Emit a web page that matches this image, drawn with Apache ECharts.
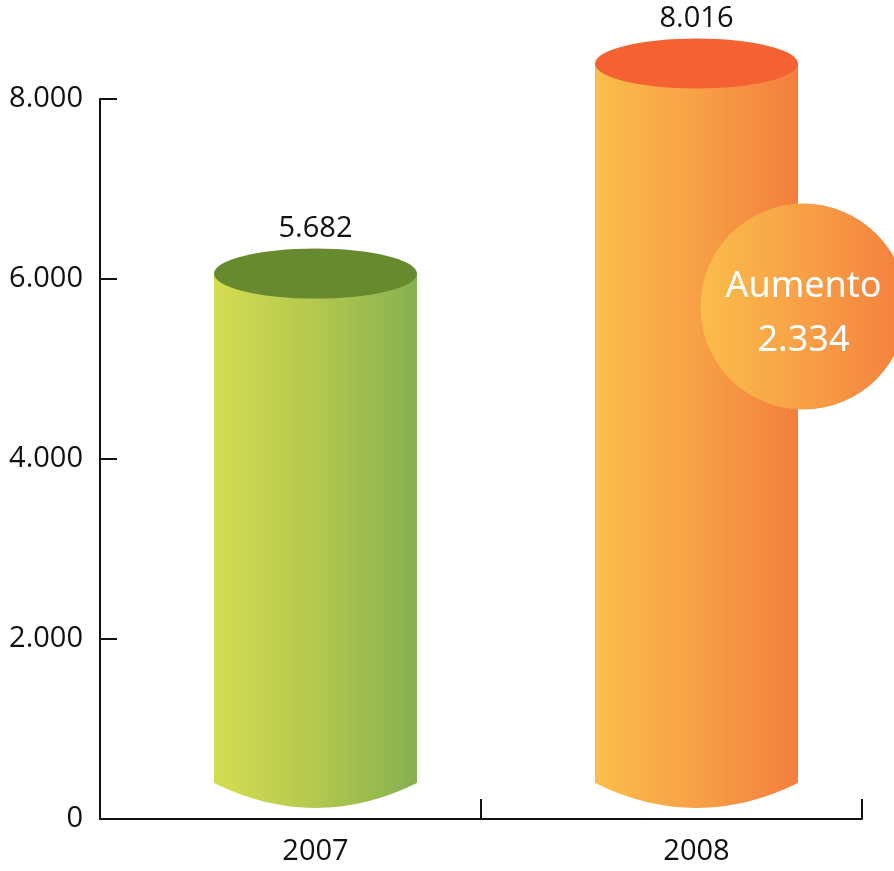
<!DOCTYPE html>
<html>
<head>
<meta charset="utf-8">
<script src="https://cdn.jsdelivr.net/npm/echarts@6/dist/echarts.min.js"></script>
<style>
html,body{margin:0;padding:0;background:#fff;}
#chart{width:894px;height:871px;}
</style>
</head>
<body>
<div id="chart"></div>
<script>
// ---- data ----
const years = ['2007', '2008'];
const values = [5682, 8016];
const yTicks = [0, 2000, 4000, 6000, 8000];
const increaseTitle = 'Aumento';
const increase = 2334;

// ---- styles ----
const sideColors = [['#d5dc50', '#b3c84f', '#86b150'], ['#fbbe4b', '#f7a046', '#f47f3e']];
const topColors = ['#678a2f', '#f46233'];
const axisColor = '#111111';
const fontFamily = '"Open Sans", "Liberation Sans", sans-serif';

function fmt(v) { return String(v).replace(/\B(?=(\d{3})+(?!\d))/g, '.'); }

const chart = echarts.init(document.getElementById('chart'), null, { renderer: 'canvas' });

const X_SHIFT = 25, TOP_LIFT = 34, BASE_LIFT = 36, RX = 101.5, RY_TOP = 25, BOT_DEPTH = 25;

function grad(stops) {
  return {
    type: 'linear', x: 0, y: 0, x2: 1, y2: 0,
    colorStops: stops.map((c, i) => ({ offset: i / (stops.length - 1), color: c }))
  };
}

const option = {
  animation: false,
  backgroundColor: '#fff',
  grid: { left: 100, right: 32, top: 99, bottom: 52 },
  xAxis: {
    type: 'category',
    data: years,
    boundaryGap: true,
    axisLine: { show: true, lineStyle: { color: axisColor, width: 2 } },
    axisTick: { show: true, inside: true, length: 20, interval: 0, lineStyle: { color: axisColor, width: 2 } },
    axisLabel: {
      color: axisColor, fontSize: 29, fontFamily: fontFamily, margin: 18,
      padding: [0, 0, 0, 2 * X_SHIFT]
    },
    splitLine: { show: false }
  },
  yAxis: {
    type: 'value',
    min: yTicks[0], max: yTicks[yTicks.length - 1], interval: yTicks[1] - yTicks[0],
    axisLine: { show: true, lineStyle: { color: axisColor, width: 2 } },
    axisTick: { show: true, inside: true, length: 17, lineStyle: { color: axisColor, width: 2 } },
    axisLabel: { color: axisColor, fontSize: 29, fontFamily: fontFamily, margin: 17, formatter: v => fmt(v) },
    splitLine: { show: false }
  },
  series: [{
    type: 'custom',
    clip: false,
    data: years.map((y, i) => [i, values[i]]),
    encode: { x: 0, y: 1 },
    renderItem: function (params, api) {
      const i = params.dataIndex;
      const base = api.coord([api.value(0), 0]);
      const xc = base[0] + X_SHIFT;
      const yTop = api.coord([api.value(0), api.value(1)])[1] - TOP_LIFT;
      const yBase = base[1] - BASE_LIFT;
      const x1 = xc - RX, x2 = xc + RX;
      const children = [
        {
          type: 'path',
          shape: { pathData: `M ${x1} ${yTop} L ${x1} ${yBase} Q ${xc} ${yBase + 2 * BOT_DEPTH} ${x2} ${yBase} L ${x2} ${yTop} Z` },
          style: { fill: grad(sideColors[i]) }
        },
        {
          type: 'path',
          shape: { pathData: `M ${x1} ${yTop} A ${RX} ${RY_TOP} 0 1 0 ${x2} ${yTop} A ${RX} ${RY_TOP} 0 1 0 ${x1} ${yTop} Z` },
          style: { fill: topColors[i] }
        },
        {
          type: 'text',
          style: {
            text: fmt(api.value(1)), x: xc, y: yTop - RY_TOP - 5,
            align: 'center', verticalAlign: 'bottom',
            fill: axisColor, font: '29px ' + fontFamily
          }
        }
      ];
      if (i === values.length - 1) {
        const cx = xc + 107, cy = yTop + 243;
        children.push(
          { type: 'circle', shape: { cx: cx, cy: cy, r: 103 }, style: { fill: grad(['#fbbd4b', '#f7a046', '#f47f3e']) } },
          { type: 'text', style: { text: increaseTitle, x: cx, y: cy - 20, align: 'center', verticalAlign: 'middle', fill: '#fff', font: '36px "Noto Sans", sans-serif' } },
          { type: 'text', style: { text: fmt(increase), x: cx, y: cy + 34, align: 'center', verticalAlign: 'middle', fill: '#fff', font: '36px "Noto Sans", sans-serif' } }
        );
      }
      return { type: 'group', children: children };
    }
  }]
};

chart.setOption(option);
</script>
</body>
</html>
